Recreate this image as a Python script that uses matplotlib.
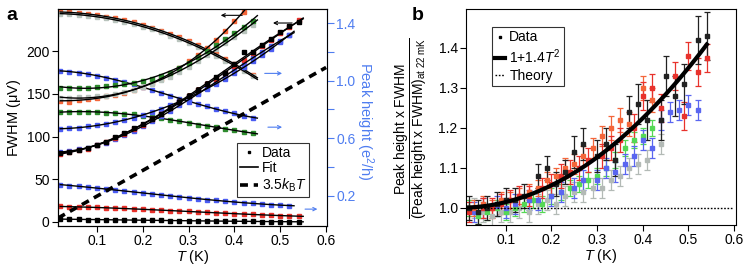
import numpy as np
import matplotlib
matplotlib.use('Agg')
import matplotlib.pyplot as plt
from matplotlib.lines import Line2D

plt.rcParams['font.family'] = ['Liberation Sans', 'DejaVu Sans']
plt.rcParams['mathtext.fontset'] = 'custom'
plt.rcParams['mathtext.rm'] = 'Liberation Sans'
plt.rcParams['mathtext.it'] = 'Liberation Sans:italic'
plt.rcParams['font.size'] = 10

# ---------------- panel a data ----------------
T_up = [0.02, 0.04, 0.06, 0.08, 0.10, 0.12, 0.14, 0.16, 0.18, 0.20, 0.22,
        0.24, 0.26, 0.28, 0.30, 0.32, 0.34, 0.36, 0.38, 0.40, 0.42, 0.44]
T_long = [0.02, 0.04, 0.06, 0.08, 0.10, 0.12, 0.14, 0.16, 0.18, 0.20, 0.22,
          0.24, 0.26, 0.28, 0.30, 0.32, 0.34, 0.36, 0.38, 0.40, 0.42, 0.44,
          0.46, 0.48, 0.50, 0.52, 0.54]
T_mid = [0.02, 0.04, 0.06, 0.08, 0.10, 0.12, 0.14, 0.16, 0.18, 0.20, 0.22,
         0.24, 0.26, 0.28, 0.30, 0.32, 0.34, 0.36, 0.38, 0.40, 0.42, 0.44,
         0.46, 0.48, 0.50, 0.52]

# FWHM (uV), left axis
fw_orange = [142, 141, 143, 144, 145, 147, 149, 151, 155, 158, 163, 167, 174,
             180, 188, 195, 204, 213, 224, 235, 246]
fw_gray = [145, 145, 146, 146, 147, 148, 150, 152, 155, 158, 162, 166, 170,
           176, 182, 189, 196, 203, 210, 217, 224, 231]
fw_green = [157, 157, 157, 157, 158, 159, 160, 161, 163, 165, 168, 171, 175,
            180, 186, 193, 200, 207, 214, 221, 228, 235]
fw_red = [80, 82, 84, 86, 90, 94, 98, 103, 109, 114, 120, 127, 133, 140, 147,
          154, 161, 168, 175, 183, 190, 198, 206, 213, 221, 228, 236]
fw_black = [81, 82, 84, 87, 90, 94, 99, 104, 110, 115, 121, 127, 134, 141,
            148, 155, 162, 170, 174, 185, 199, 199, 207, 214, 222, 229, 234]
fw_blue = [82, 83, 85, 87, 90, 93, 97, 102, 107, 112, 118, 124, 130, 137, 143,
           150, 157, 164, 171, 178, 185, 192, 199, 206, 212, 219]
fw_blue2 = [109, 110, 110, 112, 113, 115, 117, 119, 122, 125, 129, 132, 137,
            141, 146, 151, 156, 162, 168, 174, 181, 188, 195, 203, 211, 219]

# peak height (e^2/h), right axis
ph_orange = [1.479, 1.476, 1.472, 1.466, 1.457, 1.447, 1.436, 1.422, 1.407,
             1.389, 1.370, 1.349, 1.327, 1.302, 1.276, 1.248, 1.218, 1.186,
             1.152, 1.117, 1.080, 1.041]
ph_gray = [1.468, 1.465, 1.460, 1.454, 1.446, 1.436, 1.424, 1.410, 1.395,
           1.377, 1.358, 1.337, 1.315, 1.290, 1.264, 1.236, 1.206, 1.174,
           1.140, 1.105, 1.068, 1.030]
ph_blue = [1.070, 1.063, 1.055, 1.046, 1.035, 1.022, 1.008, 0.993, 0.976,
           0.957, 0.937, 0.915, 0.893, 0.872, 0.854, 0.838, 0.822, 0.806,
           0.790, 0.773, 0.757, 0.741]
ph_green = [0.785, 0.784, 0.783, 0.782, 0.780, 0.777, 0.774, 0.770, 0.765,
            0.757, 0.750, 0.741, 0.730, 0.717, 0.704, 0.694, 0.684, 0.675,
            0.666, 0.656, 0.645, 0.635]
ph_blue_low = [0.275, 0.270, 0.265, 0.259, 0.253, 0.246, 0.239, 0.232, 0.225,
               0.218, 0.211, 0.204, 0.197, 0.190, 0.184, 0.178, 0.172, 0.166,
               0.161, 0.156, 0.151, 0.146, 0.142, 0.137, 0.133, 0.129]
ph_red_low = [0.124, 0.122, 0.121, 0.119, 0.117, 0.115, 0.112, 0.110, 0.107,
              0.104, 0.101, 0.098, 0.095, 0.092, 0.089, 0.086, 0.083, 0.080,
              0.077, 0.074, 0.071, 0.068, 0.066, 0.063, 0.061, 0.058, 0.056]
ph_black_low = [0.036, 0.035, 0.034, 0.033, 0.032, 0.032, 0.031, 0.030, 0.029,
                0.028, 0.027, 0.027, 0.026, 0.025, 0.024, 0.024, 0.023, 0.022,
                0.022, 0.021, 0.020, 0.020, 0.019, 0.019, 0.018, 0.018, 0.017]

kB = 86.17  # ueV/K

# ---------------- panel b data ----------------
bk_T = [0.02, 0.04, 0.06, 0.08, 0.10, 0.12, 0.14, 0.17, 0.19, 0.21, 0.23, 0.25,
        0.27, 0.30, 0.32, 0.34, 0.37, 0.39, 0.41, 0.44, 0.45, 0.47, 0.49, 0.52, 0.54]
bk_v = [1.00, 0.99, 1.00, 1.01, 1.02, 1.02, 1.03, 1.08, 1.10, 1.06, 1.09, 1.14,
        1.16, 1.13, 1.16, 1.12, 1.24, 1.26, 1.22, 1.22, 1.33, 1.28, 1.31, 1.42, 1.43]
bk_e = [0.03, 0.03, 0.03, 0.03, 0.03, 0.03, 0.03, 0.03, 0.03, 0.03, 0.03, 0.04,
        0.04, 0.04, 0.04, 0.04, 0.04, 0.05, 0.05, 0.05, 0.05, 0.05, 0.05, 0.06, 0.06]

rd_T = [0.02, 0.05, 0.07, 0.09, 0.11, 0.13, 0.15, 0.18, 0.20, 0.22, 0.24, 0.26,
        0.28, 0.31, 0.33, 0.35, 0.38, 0.40, 0.42, 0.44, 0.47, 0.49, 0.50, 0.52, 0.54]
rd_v = [0.99, 1.00, 1.00, 1.01, 1.02, 1.03, 1.03, 1.05, 1.06, 1.08, 1.09, 1.10,
        1.12, 1.13, 1.15, 1.17, 1.20, 1.28, 1.30, 1.25, 1.33, 1.23, 1.38, 1.34, 1.375]
rd_e = [0.025, 0.025, 0.025, 0.025, 0.025, 0.025, 0.025, 0.025, 0.025, 0.03,
        0.03, 0.03, 0.03, 0.03, 0.03, 0.03, 0.035, 0.035, 0.035, 0.035, 0.035,
        0.035, 0.035, 0.035, 0.035]

or_T = [0.03, 0.05, 0.07, 0.09, 0.11, 0.13, 0.15, 0.17, 0.19, 0.21, 0.23, 0.25,
        0.27, 0.29, 0.31, 0.33, 0.35, 0.37, 0.40, 0.42]
or_v = [1.00, 1.01, 1.00, 1.02, 1.02, 1.03, 1.04, 1.05, 1.07, 1.08, 1.10, 1.11,
        1.13, 1.15, 1.18, 1.20, 1.22, 1.21, 1.30, 1.27]
or_e = [0.02, 0.02, 0.02, 0.02, 0.02, 0.02, 0.02, 0.02, 0.02, 0.02, 0.025,
        0.025, 0.025, 0.025, 0.025, 0.03, 0.03, 0.03, 0.03, 0.03]

bl_T = [0.03, 0.05, 0.08, 0.10, 0.12, 0.15, 0.17, 0.20, 0.22, 0.25, 0.27, 0.30,
        0.32, 0.34, 0.36, 0.38, 0.40, 0.42, 0.44, 0.46, 0.48, 0.50, 0.52]
bl_v = [0.99, 1.00, 1.005, 1.00, 1.01, 1.02, 1.02, 1.03, 1.04, 1.05, 1.07, 1.07,
        1.10, 1.09, 1.11, 1.13, 1.17, 1.15, 1.22, 1.24, 1.245, 1.257, 1.244]
bl_e = [0.025, 0.025, 0.025, 0.025, 0.025, 0.025, 0.025, 0.025, 0.025, 0.025,
        0.025, 0.025, 0.025, 0.025, 0.025, 0.025, 0.025, 0.025, 0.025, 0.025,
        0.025, 0.025, 0.025]

gn_T = [0.02, 0.04, 0.06, 0.08, 0.10, 0.12, 0.14, 0.16, 0.18, 0.20, 0.22, 0.24,
        0.26, 0.28, 0.30, 0.32, 0.34, 0.36, 0.38, 0.40, 0.42]
gn_v = [1.00, 0.98, 0.99, 1.00, 0.99, 1.00, 1.01, 1.02, 1.01, 1.03, 1.04, 1.05,
        1.06, 1.07, 1.08, 1.10, 1.12, 1.15, 1.17, 1.18, 1.20]
gn_e = [0.02, 0.02, 0.02, 0.02, 0.02, 0.02, 0.02, 0.02, 0.02, 0.02, 0.02, 0.02,
        0.02, 0.02, 0.02, 0.02, 0.02, 0.02, 0.02, 0.02, 0.02]

gy_T = [0.03, 0.05, 0.07, 0.09, 0.11, 0.13, 0.15, 0.17, 0.19, 0.21, 0.23, 0.25,
        0.27, 0.29, 0.31, 0.33, 0.35, 0.37, 0.39, 0.41, 0.44]
gy_v = [1.00, 0.99, 0.98, 0.99, 0.99, 1.00, 0.99, 1.01, 1.02, 1.01, 1.03, 1.04,
        1.04, 1.05, 1.05, 1.07, 1.08, 1.10, 1.11, 1.12, 1.16]
gy_e = [0.025, 0.025, 0.025, 0.025, 0.025, 0.025, 0.025, 0.025, 0.025, 0.025,
        0.025, 0.025, 0.025, 0.025, 0.025, 0.025, 0.025, 0.025, 0.025, 0.025, 0.025]

c_orange = '#f4663a'
c_red = '#e8322c'
c_green = '#2e8b2e'
c_lgreen = '#55d855'
c_gray = '#b9c4bd'
c_blue = '#4b5cf2'
c_axblue = '#4f7df0'

fig = plt.figure(figsize=(7.47, 2.69), dpi=100)
ax = fig.add_axes([0.0776, 0.161, 0.3602, 0.8055])
ax2 = ax.twinx()


def data_fit(a, T, y, col, err, deg=3):
    T = np.array(T[:len(y)])
    y = np.array(y)
    a.errorbar(T, y, yerr=err, fmt='s', ms=2.3, color=col, mec=col,
               elinewidth=0.7, capsize=1.3, capthick=0.7, zorder=2)
    p = np.polyfit(T, y, deg)
    tt = np.linspace(T[0], T[-1] + 0.01, 120)
    a.plot(tt, np.polyval(p, tt), color='k', lw=1.0, zorder=3)


data_fit(ax, T_up, fw_orange, c_orange, 2.0)
data_fit(ax, T_up, fw_gray, c_gray, 2.0)
data_fit(ax, T_up, fw_green, c_green, 2.0)
data_fit(ax, T_mid, fw_blue2, c_blue, 2.0)
data_fit(ax, T_mid, fw_blue, c_blue, 2.0)
data_fit(ax, T_long, fw_red, c_red, 2.0)
data_fit(ax, T_long, fw_black, 'k', 2.5)

data_fit(ax2, T_up, ph_orange, c_orange, 0.01, 2)
data_fit(ax2, T_up, ph_gray, c_gray, 0.01, 2)
data_fit(ax2, T_up, ph_blue, c_blue, 0.008)
data_fit(ax2, T_up, ph_green, c_green, 0.008)
data_fit(ax2, T_mid, ph_blue_low, c_blue, 0.005)
data_fit(ax2, T_long, ph_red_low, c_red, 0.005)
data_fit(ax2, T_long, ph_black_low, 'k', 0.004)

tk = np.array([0.015, 0.6])
ax.plot(tk, 3.5 * kB * tk, 'k--', lw=2.6, dashes=(2.2, 1.6), zorder=4)

ax.set_xlim(0.015, 0.602)
ax.set_ylim(-4.4, 249.4)
ax2.set_ylim(-0.01, 1.5)
ax.set_xticks([0.1, 0.2, 0.3, 0.4, 0.5, 0.6])
ax.set_yticks([0, 50, 100, 150, 200])
ax2.set_yticks([0.2, 0.6, 1.0, 1.4])
ax2.set_yticks([0.4, 0.8, 1.2], minor=True)
ax.tick_params(direction='out', length=4, width=0.8, labelsize=10, pad=2)
ax2.tick_params(axis='y', which='both', direction='out', length=5, width=0.8,
                colors=c_axblue, labelsize=10, pad=1.5)
for a in (ax, ax2):
    for s in a.spines.values():
        s.set_linewidth(0.8)
ax2.spines['right'].set_color(c_axblue)
ax.set_xlabel(r'$T$ (K)', fontsize=10.5, labelpad=0)
ax.set_ylabel(r'FWHM ($\mathrm{\mu}$V)', fontsize=10.5, labelpad=2)
ax2.set_ylabel(r'Peak height (e$^2$/h)', fontsize=10.5, color=c_axblue,
               rotation=270, va='center', ha='center')
ax2.yaxis.set_label_coords(1.142, 0.48)

# arrows pointing to the axes
arr_k = dict(arrowstyle='->', color='k', lw=0.8, mutation_scale=6)
arr_b = dict(arrowstyle='->', color=c_axblue, lw=0.8, mutation_scale=6)
ax.annotate('', xy=(0.364, 242), xytext=(0.423, 242), arrowprops=arr_k)
ax.annotate('', xy=(0.478, 233), xytext=(0.532, 233), arrowprops=arr_k)
ax.annotate('', xy=(0.51, 174), xytext=(0.46, 174), arrowprops=arr_b)
ax.annotate('', xy=(0.51, 111), xytext=(0.467, 111), arrowprops=arr_b)
ax.annotate('', xy=(0.587, 15), xytext=(0.548, 15), arrowprops=arr_b)

h_a = [Line2D([], [], ls='none', marker='s', ms=2, color='k'),
       Line2D([], [], color='k', lw=1.2),
       Line2D([], [], color='k', lw=2.6, ls='--', dashes=(2.2, 1.6))]
leg = ax.legend(h_a, ['Data', 'Fit', r'3.5$k_\mathrm{B}T$'], loc='upper left',
                bbox_to_anchor=(0.665, 0.382), fontsize=10, frameon=True,
                fancybox=False, edgecolor='k', handlelength=1.3,
                handletextpad=0.3, borderpad=0.2, labelspacing=0.1,
                borderaxespad=0)
leg.get_frame().set_linewidth(0.8)
leg.set_zorder(10)
ax.set_zorder(ax2.get_zorder() + 1)
ax.patch.set_visible(False)

# ---------------- panel b ----------------
bx = fig.add_axes([0.6238, 0.164, 0.3615, 0.8025])
for T, v, e, col in [(gy_T, gy_v, gy_e, '#b3bab6'), (gn_T, gn_v, gn_e, c_lgreen),
                     (bl_T, bl_v, bl_e, '#5a66f0'), (or_T, or_v, or_e, c_orange),
                     (rd_T, rd_v, rd_e, c_red), (bk_T, bk_v, bk_e, '#222222')]:
    bx.errorbar(T, v, yerr=e, fmt='s', ms=2.3, color=col, elinewidth=0.9,
                capsize=2.2, capthick=0.9, zorder=2)
tf = np.linspace(0.015, 0.54, 100)
bx.plot(tf, 1 + 1.4 * tf ** 2, color='k', lw=3, zorder=5)
bx.plot([0.015, 0.595], [1.0, 1.0], color='k', lw=1, ls=(0, (1.2, 1.2)), zorder=4)
bx.set_xlim(0.013, 0.604)
bx.set_ylim(0.957, 1.497)
bx.set_xticks([0.1, 0.2, 0.3, 0.4, 0.5, 0.6])
bx.set_yticks([1.0, 1.1, 1.2, 1.3, 1.4])
bx.tick_params(direction='out', length=4, width=0.8, labelsize=10, pad=2)
for s in bx.spines.values():
    s.set_linewidth(0.8)
bx.set_xlabel(r'$T$ (K)', fontsize=10.5, labelpad=0)
bx.set_ylabel(r'$\dfrac{\mathrm{Peak\ height\ x\ FWHM}}{\mathrm{(Peak\ height\ x\ FWHM)}_{\mathrm{at\ 22\ mK}}}$',
              fontsize=10, va='center', ha='center')
bx.yaxis.set_label_coords(-0.205, 0.45)
h_b = [Line2D([], [], ls='none', marker='s', ms=2, color='k'),
       Line2D([], [], color='k', lw=3),
       Line2D([], [], color='k', lw=1, ls=(0, (1.2, 1.2)))]
legb = bx.legend(h_b, ['Data', r'1+1.4$T^2$', 'Theory'], loc='upper left',
                 bbox_to_anchor=(0.096, 0.917), fontsize=10, frameon=True,
                 fancybox=False, edgecolor='k', handlelength=0.7,
                 handletextpad=0.3, borderpad=0.25, labelspacing=0.2,
                 borderaxespad=0)
legb.get_frame().set_linewidth(0.8)

fig.text(0.008, 0.925, 'a', fontsize=14, fontweight='bold')
fig.text(0.551, 0.925, 'b', fontsize=14, fontweight='bold')

fig.savefig('out.png', dpi=100)
